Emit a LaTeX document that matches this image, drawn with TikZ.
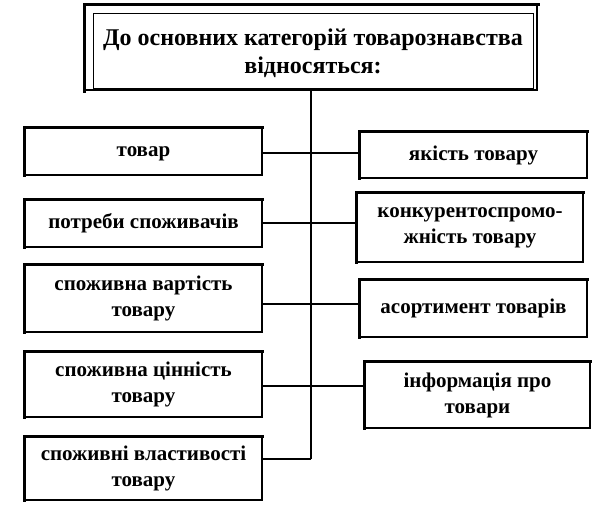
\documentclass[tikz,border=0pt]{standalone}
\usepackage{fontspec}
\setmainfont{Liberation Serif}
\usetikzlibrary{positioning,calc}

\begin{document}
\begin{tikzpicture}[x=1pt, y=-1pt]
\tikzset{
  catbox/.style={rectangle, draw=black, line width=1.2pt, align=center,
    font=\fontsize{21}{26}\selectfont\bfseries, inner sep=2pt},
  oneline/.style={text height=10pt, text depth=0pt},
  headbox/.style={rectangle, draw=black, line width=0.9pt},
  headtext/.style={align=center, font=\fontsize{24}{28}\selectfont\bfseries, inner sep=0pt},
  thickedge/.style={line width=3.2pt, line cap=rect},
  link/.style={line width=1.3pt, draw=black}
}
\useasboundingbox (0,0) rectangle (596,515);

% heading with double frame
\node[rectangle, draw=black, line width=1.8pt, minimum width=452pt, minimum height=85pt] (frame) at (311,47.5) {};
\node[headbox, minimum width=440pt, minimum height=75pt] (head) at (313,50.5) {};
\node[headtext] (headtxt) at ($(head.center)+(0,3)$) {До основних категорій товарознавства\\відносяться:};

% left column
\node[catbox, oneline, minimum width=237pt, minimum height=47pt] (tovar) at (143.5,151.5) {товар};
\node[catbox, oneline, minimum width=237pt, minimum height=47pt] (potreby) at (143.5,223.5) {потреби споживачів};
\node[catbox, minimum width=237pt, minimum height=67pt] (vartist) at (143.5,298.5) {споживна вартість\\товару};
\node[catbox, minimum width=237pt, minimum height=65pt] (tsinnist) at (143.5,384.5) {споживна цінність\\товару};
\node[catbox, minimum width=237pt, minimum height=63pt] (vlast) at (143.5,468.5) {споживні властивості\\товару};

% right column
\node[catbox, oneline, minimum width=227pt, minimum height=46pt] (yakist) at (473.5,155) {якість товару};
\node[catbox, minimum width=226pt, minimum height=69pt] (konk) at (470,227.5) {конкурентоспромо-\\жність товару};
\node[catbox, oneline, minimum width=227pt, minimum height=57pt] (asort) at (473.5,308.5) {асортимент товарів};
\node[catbox, minimum width=225pt, minimum height=66pt] (info) at (477.5,395) {інформація про\\товари};

% shadowed left and top edges
\foreach \n in {frame,tovar,potreby,vartist,tsinnist,vlast,yakist,konk,asort,info}
  \draw[thickedge] (\n.south west) |- (\n.north east);

% junctions on the trunk
\coordinate (j1) at (311,153);
\coordinate (j2) at (311,223);
\coordinate (j3) at (311,304);
\coordinate (j4) at (311,386);
\coordinate (j5) at (311,459);

\draw[link] (frame.south) -- (j5);
\draw[link] (tovar.east |- j1) -- (yakist.west |- j1);
\draw[link] (potreby.east |- j2) -- (konk.west |- j2);
\draw[link] (vartist.east |- j3) -- (asort.west |- j3);
\draw[link] (tsinnist.east |- j4) -- (info.west |- j4);
\draw[link] (vlast.east |- j5) -- (j5);
\end{tikzpicture}
\end{document}
